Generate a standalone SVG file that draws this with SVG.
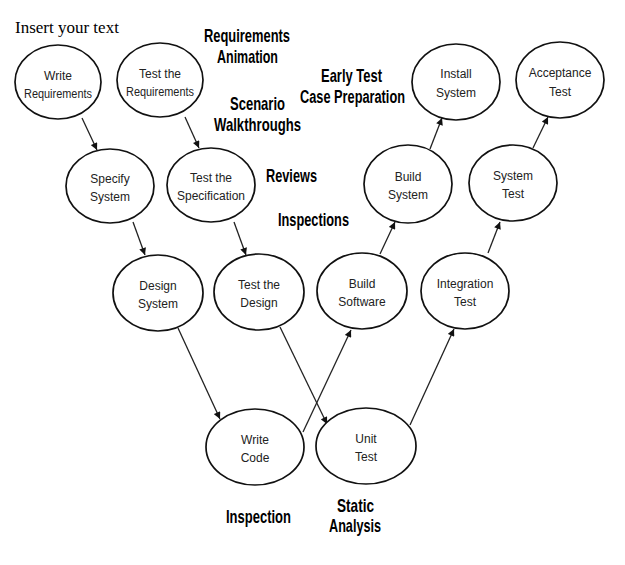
<svg xmlns="http://www.w3.org/2000/svg" width="625" height="565" viewBox="0 0 625 565">
<style>
.bg{fill:#ffffff}
.node ellipse{fill:#ffffff;stroke:#111111;stroke-width:1.7}
.node text{font-family:"Liberation Sans",Arial,sans-serif;font-size:12px;fill:#222222;text-anchor:middle}
.conn line{stroke:#222222;stroke-width:1.3;marker-end:url(#ah)}
.lbl{font-family:"Liberation Sans Narrow","Liberation Sans",Arial,sans-serif;font-weight:bold;font-size:18.5px;fill:#000000}
.title{font-family:"Liberation Serif","Times New Roman",serif;font-size:17px;fill:#000000}
</style>
<defs>
<marker id="ah" viewBox="0 0 10 10" refX="10" refY="5" markerWidth="8" markerHeight="7" markerUnits="userSpaceOnUse" orient="auto">
<path d="M0,0 L10,5 L0,10 z" fill="#111111"/>
</marker>
</defs>
<rect class="bg" x="0" y="0" width="625" height="565"/>
<text class="title" x="15" y="33">Insert your text</text>

<g id="connectors" class="conn">
<line x1="82" y1="118" x2="97" y2="150"/>
<line x1="185" y1="117" x2="199" y2="148"/>
<line x1="133" y1="222" x2="145" y2="255"/>
<line x1="234" y1="222" x2="246" y2="255"/>
<line x1="178" y1="328" x2="220" y2="419"/>
<line x1="280" y1="327" x2="327" y2="424"/>
<line x1="303" y1="432" x2="351" y2="330"/>
<line x1="410" y1="425" x2="454" y2="329"/>
<line x1="380" y1="254" x2="395" y2="222"/>
<line x1="488" y1="253" x2="500" y2="222"/>
<line x1="430" y1="149" x2="442" y2="118"/>
<line x1="533" y1="148" x2="548" y2="117"/>
</g>

<g id="write-requirements" class="node"><ellipse cx="58" cy="82" rx="43" ry="37"/><text x="58" y="80">Write</text><text x="58" y="98" textLength="68" lengthAdjust="spacingAndGlyphs">Requirements</text></g>
<g id="test-requirements" class="node"><ellipse cx="160" cy="80" rx="43" ry="37"/><text x="160" y="78">Test the</text><text x="160" y="96" textLength="68" lengthAdjust="spacingAndGlyphs">Requirements</text></g>
<g id="specify-system" class="node"><ellipse cx="110" cy="186" rx="44" ry="37"/><text x="110" y="183">Specify</text><text x="110" y="201">System</text></g>
<g id="test-specification" class="node"><ellipse cx="211" cy="185" rx="44" ry="37"/><text x="211" y="182">Test the</text><text x="211" y="200">Specification</text></g>
<g id="install-system" class="node"><ellipse cx="456" cy="82" rx="44" ry="38"/><text x="456" y="78">Install</text><text x="456" y="97">System</text></g>
<g id="acceptance-test" class="node"><ellipse cx="560" cy="80" rx="44" ry="38"/><text x="560" y="77">Acceptance</text><text x="560" y="96">Test</text></g>
<g id="build-system" class="node"><ellipse cx="408" cy="184" rx="44" ry="39"/><text x="408" y="181">Build</text><text x="408" y="199">System</text></g>
<g id="system-test" class="node"><ellipse cx="513" cy="183" rx="44" ry="38"/><text x="513" y="180">System</text><text x="513" y="198">Test</text></g>
<g id="design-system" class="node"><ellipse cx="158" cy="293" rx="45" ry="38"/><text x="158" y="290">Design</text><text x="158" y="308">System</text></g>
<g id="test-design" class="node"><ellipse cx="259" cy="292" rx="45" ry="38"/><text x="259" y="289">Test the</text><text x="259" y="307">Design</text></g>
<g id="build-software" class="node"><ellipse cx="362" cy="291" rx="45" ry="38"/><text x="362" y="288">Build</text><text x="362" y="306">Software</text></g>
<g id="integration-test" class="node"><ellipse cx="465" cy="291" rx="44" ry="38"/><text x="465" y="288">Integration</text><text x="465" y="306">Test</text></g>
<g id="write-code" class="node"><ellipse cx="255" cy="447" rx="49" ry="38"/><text x="255" y="444">Write</text><text x="255" y="462">Code</text></g>
<g id="unit-test" class="node"><ellipse cx="366" cy="446" rx="50" ry="38"/><text x="366" y="443">Unit</text><text x="366" y="461">Test</text></g>

<g id="labels">
<text class="lbl" x="204" y="42" textLength="86" lengthAdjust="spacingAndGlyphs">Requirements</text>
<text class="lbl" x="217" y="63" textLength="61" lengthAdjust="spacingAndGlyphs">Animation</text>
<text class="lbl" x="230" y="110" textLength="55" lengthAdjust="spacingAndGlyphs">Scenario</text>
<text class="lbl" x="214" y="131" textLength="87" lengthAdjust="spacingAndGlyphs">Walkthroughs</text>
<text class="lbl" x="321" y="82" textLength="61" lengthAdjust="spacingAndGlyphs">Early Test</text>
<text class="lbl" transform="translate(300,103) scale(0.7,1)" x="0" y="0" textLength="150" lengthAdjust="spacingAndGlyphs">Case Preparation</text>
<text class="lbl" x="266" y="182" textLength="51" lengthAdjust="spacingAndGlyphs">Reviews</text>
<text class="lbl" x="278" y="226" textLength="71" lengthAdjust="spacingAndGlyphs">Inspections</text>
<text class="lbl" x="226" y="523" textLength="65" lengthAdjust="spacingAndGlyphs">Inspection</text>
<text class="lbl" x="337" y="512" textLength="37" lengthAdjust="spacingAndGlyphs">Static</text>
<text class="lbl" x="329" y="532" textLength="52" lengthAdjust="spacingAndGlyphs">Analysis</text>
</g>
</svg>
